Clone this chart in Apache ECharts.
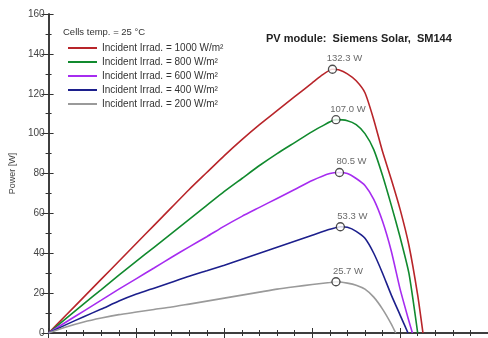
<!DOCTYPE html>
<html><head><meta charset="utf-8">
<script src="https://cdn.jsdelivr.net/npm/echarts@6/dist/echarts.min.js"></script>
<style>html,body{margin:0;padding:0;background:#fff}#c{width:488px;height:338px}</style>
</head><body><div id="c"></div>
<script>
var seriesNames = ['Incident Irrad. = 1000 W/m²','Incident Irrad. = 800 W/m²','Incident Irrad. = 600 W/m²','Incident Irrad. = 400 W/m²','Incident Irrad. = 200 W/m²'];
var volt1000 = [0,2,4,6,8,10,12,14,16,18,20,22,24,26,28,30,31,32.3,33,34,35,36,37,38,39,40,41,42,42.6];
var pow1000  = [0,9,18,27,36,45,54,63,72,80.5,89,97,104.5,111.5,118.5,125.5,129,132.3,132,130,126.5,120.5,107,91,77,62,44,19,0];
var volt800 = [0,2,4,6,8,10,12,14,16,18,20,22,24,26,28,30,31,32.7,34,35,36,37,38,39,40,41,42];
var pow800  = [0,7.3,14.6,21.8,29,36,43,50,57,64,71,77.5,84,90,95.5,101,103.5,107,106.5,104.5,100,92,79,64,48,30,0];
var volt600 = [0,2,4,6,8,10,12,14,16,18,20,22,24,26,28,30,32,33.1,34,35,36,37,38,39,40,41,41.4];
var pow600  = [0,5.5,11,16.5,22,27.3,32.6,38,43.2,48.3,53.6,58.5,63,67.5,72,76.5,80,80.5,80,77.5,74,67,56,41,22,6,0];
var volt400 = [0,2,4,6,8,10,12,14,16,18,20,22,24,26,28,30,32,33.2,34,35,36,37,38,39,40,40.9];
var pow400  = [0,4.2,8.2,12,16,19.5,22.5,25.5,28.5,31.2,34,37,40,43,46,49,52,53.3,53,51,47.5,40,30,19,9,0];
var volt200 = [0,2,4,6,8,10,12,14,16,18,20,22,24,26,28,30,32,32.7,34,35,36,37,38,39,39.5];
var pow200  = [0,3,5.5,7.5,9.2,10.5,11.8,13,14.5,16,17.5,19,20.5,22,23.2,24.3,25.3,25.7,25,24,22,18,12,4.5,0];
var mppVolt = [32.3,32.7,33.1,33.2,32.7];
var mppPow  = [132.3,107.0,80.5,53.3,25.7];
var mppLabels = ['132.3 W','107.0 W','80.5 W','53.3 W','25.7 W'];
var colors = ['#b8252a','#118a2e','#a62cf0','#1c1f8c','#9a9a9a'];

function zip(a,b){return a.map(function(v,i){return [v,b[i]];});}
var curves = [zip(volt1000,pow1000),zip(volt800,pow800),zip(volt600,pow600),zip(volt400,pow400),zip(volt200,pow200)];

var series = curves.map(function(d,i){
  return {name:seriesNames[i],type:'line',data:d,showSymbol:false,smooth:0.2,
    lineStyle:{color:colors[i],width:1.6},itemStyle:{color:colors[i]},z:2};
});
series.push({type:'scatter',data:mppVolt.map(function(v,i){return [v,mppPow[i]];}),
  symbol:'circle',symbolSize:8,itemStyle:{color:'#fff',borderColor:'#222',borderWidth:1.3},z:5,
  label:{show:true,position:'top',distance:2,offset:[12,1],fontSize:9.5,color:'#444',fontFamily:'Liberation Sans',
    formatter:function(p){return mppLabels[p.dataIndex];}}});

var axisLine = {lineStyle:{color:'#333',width:1.5}};
var tick = {inside:true,length:5,lineStyle:{color:'#333'}};
var chart = echarts.init(document.getElementById('c'));
chart.setOption({
  animation:false,
  grid:{left:48,top:14,right:-2,bottom:1},
  title:{text:'PV module:  Siemens Solar,  SM144',left:266,top:33,padding:0,
    textStyle:{fontSize:11,fontWeight:'bold',color:'#222',fontFamily:'Liberation Sans'}},
  legend:{orient:'vertical',left:68,top:43,padding:0,itemWidth:29,itemHeight:2,itemGap:4,icon:'rect',
    data:seriesNames,textStyle:{fontSize:10,color:'#333',lineHeight:10,fontFamily:'Liberation Sans'}},
  graphic:[{type:'text',left:63,top:27,style:{text:'Cells temp. = 25 °C',fontSize:9.5,fill:'#333',fontFamily:'Liberation Sans'}}],
  xAxis:[
    {type:'value',min:0,max:50,interval:10,position:'bottom',axisLine:axisLine,
     axisTick:tick,minorTick:{show:true,splitNumber:5,length:3,lineStyle:{color:'#333'}},
     axisLabel:{show:false},splitLine:{show:false}},
    {type:'value',min:0,max:50,interval:10,position:'top',axisLine:axisLine,
     axisTick:tick,minorTick:{show:true,splitNumber:5,length:3,lineStyle:{color:'#333'}},
     axisLabel:{show:false},splitLine:{show:false}}
  ],
  yAxis:[
    {type:'value',min:0,max:160,interval:20,position:'left',axisLine:axisLine,
     name:'Power [W]',nameLocation:'middle',nameGap:31,nameTextStyle:{fontSize:9,color:'#444',fontFamily:'Liberation Sans'},
     axisTick:tick,minorTick:{show:true,splitNumber:2,length:3,lineStyle:{color:'#333'}},
     axisLabel:{fontSize:10,color:'#444',margin:4,fontFamily:'Liberation Sans'},splitLine:{show:false}},
    {type:'value',min:0,max:160,interval:20,position:'right',axisLine:axisLine,
     axisTick:{inside:true,length:7,lineStyle:{color:'#333'}},minorTick:{show:true,splitNumber:2,length:3,lineStyle:{color:'#333'}},
     axisLabel:{show:false},splitLine:{show:false}}
  ],
  series:series
});
</script></body></html>
